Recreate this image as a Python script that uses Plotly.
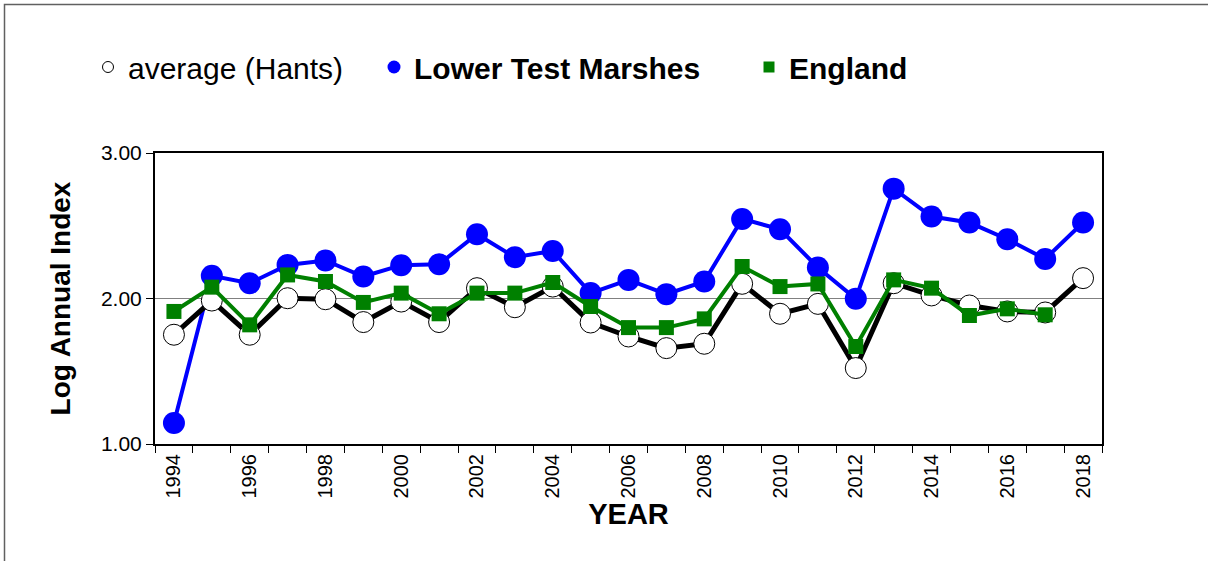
import plotly.graph_objects as go

years = list(range(1994, 2019))
lower_test = [1.144, 2.156, 2.105, 2.231, 2.261, 2.151, 2.229, 2.236, 2.442, 2.284, 2.327, 2.037,
              2.128, 2.030, 2.117, 2.547, 2.476, 2.213, 1.998, 2.755, 2.563, 2.522, 2.407, 2.272, 2.522]
average_hants = [1.751, 1.986, 1.751, 2.002, 1.995, 1.838, 1.979, 1.838, 2.071, 1.940, 2.082, 1.835,
                 1.739, 1.659, 1.689, 2.101, 1.895, 1.963, 1.522, 2.105, 2.021, 1.952, 1.911, 1.904, 2.140]
england = [1.911, 2.078, 1.819, 2.162, 2.117, 1.973, 2.037, 1.895, 2.037, 2.037, 2.110, 1.945,
           1.800, 1.800, 1.860, 2.220, 2.082, 2.100, 1.670, 2.128, 2.071, 1.883, 1.929, 1.888, None]
x_tick_labels = [str(y) for y in range(1994, 2019, 2)]
y_tick_vals = [1, 2, 3]
y_tick_labels = ["1.00", "2.00", "3.00"]

FONT = "Liberation Sans, Arial, sans-serif"

fig = go.Figure()

# data traces (drawing order: blue, black, green)
fig.add_trace(go.Scatter(x=years, y=lower_test, mode="lines+markers", showlegend=False,
                         line=dict(color="#0000FF", width=4),
                         marker=dict(symbol="circle", size=22, color="#0000FF")))
fig.add_trace(go.Scatter(x=years, y=average_hants, mode="lines+markers", showlegend=False,
                         line=dict(color="#000000", width=5),
                         marker=dict(symbol="circle", size=21, color="#FFFFFF",
                                     line=dict(color="#000000", width=1))))
fig.add_trace(go.Scatter(x=years, y=england, mode="lines+markers", showlegend=False,
                         line=dict(color="#008000", width=4),
                         marker=dict(symbol="square", size=15, color="#008000")))

# legend-only entries, one legend each for exact placement
fig.add_trace(go.Scatter(x=[None], y=[None], mode="markers", name="average (Hants)", legend="legend",
                         marker=dict(symbol="circle", size=11, color="#FFFFFF",
                                     line=dict(color="#000000", width=1))))
fig.add_trace(go.Scatter(x=[None], y=[None], mode="markers", name="<b>Lower Test Marshes</b>",
                         legend="legend2", marker=dict(symbol="circle", size=13, color="#0000FF")))
fig.add_trace(go.Scatter(x=[None], y=[None], mode="markers", name="<b>England</b>",
                         legend="legend3", marker=dict(symbol="square", size=11, color="#008000")))

def px_to_paper_x(px):
    return (px - 155) / 947.0

def px_to_paper_y(py):
    return (444 - py) / 291.0

leg_common = dict(orientation="h", xanchor="left", yanchor="middle", y=px_to_paper_y(67),
                  font=dict(size=30, family=FONT, color="black"), bgcolor="rgba(0,0,0,0)",
                  borderwidth=0)

fig.update_layout(
    width=1208, height=561,
    margin=dict(l=155, r=106, t=153, b=117),
    paper_bgcolor="white", plot_bgcolor="white",
    font=dict(family=FONT, color="black"),
    legend=dict(x=px_to_paper_x(88), **leg_common),
    legend2=dict(x=px_to_paper_x(374), **leg_common),
    legend3=dict(x=px_to_paper_x(749), **leg_common),
    xaxis=dict(range=[1993.5, 2018.5], tickmode="array", tickvals=list(range(1994, 2019, 2)),
               ticktext=x_tick_labels, tickangle=-90, ticks="", showgrid=False,
               tickfont=dict(size=20, family=FONT, color="black"), zeroline=False,
               showline=True, linecolor="black", linewidth=2, mirror=True,
               minor=dict(tick0=1993.5, dtick=1, ticks="outside", ticklen=7,
                          tickcolor="black", tickwidth=1, showgrid=False),
               title=dict(text="<b>YEAR</b>", font=dict(size=29, family=FONT), standoff=6)),
    yaxis=dict(range=[1, 3], tickmode="array", tickvals=y_tick_vals, ticktext=y_tick_labels,
               ticks="outside", ticklen=7, tickcolor="black", tickwidth=1,
               tickfont=dict(size=21, family=FONT, color="black"), zeroline=False,
               showgrid=True, gridcolor="#808080", gridwidth=1,
               showline=True, linecolor="black", linewidth=2, mirror=True,
               title=dict(text="<b>Log Annual Index</b>", font=dict(size=28, family=FONT), standoff=22)),
    shapes=[dict(type="rect", xref="paper", yref="paper",
                 x0=px_to_paper_x(4.5), x1=px_to_paper_x(1300),
                 y0=px_to_paper_y(700), y1=px_to_paper_y(4.5),
                 line=dict(color="#606060", width=1.5), fillcolor="rgba(0,0,0,0)", layer="below")],
)

fig.write_html("out.html", config={"displayModeBar": False},
               post_script="document.body.style.margin='0px';document.body.style.overflow='hidden';")
